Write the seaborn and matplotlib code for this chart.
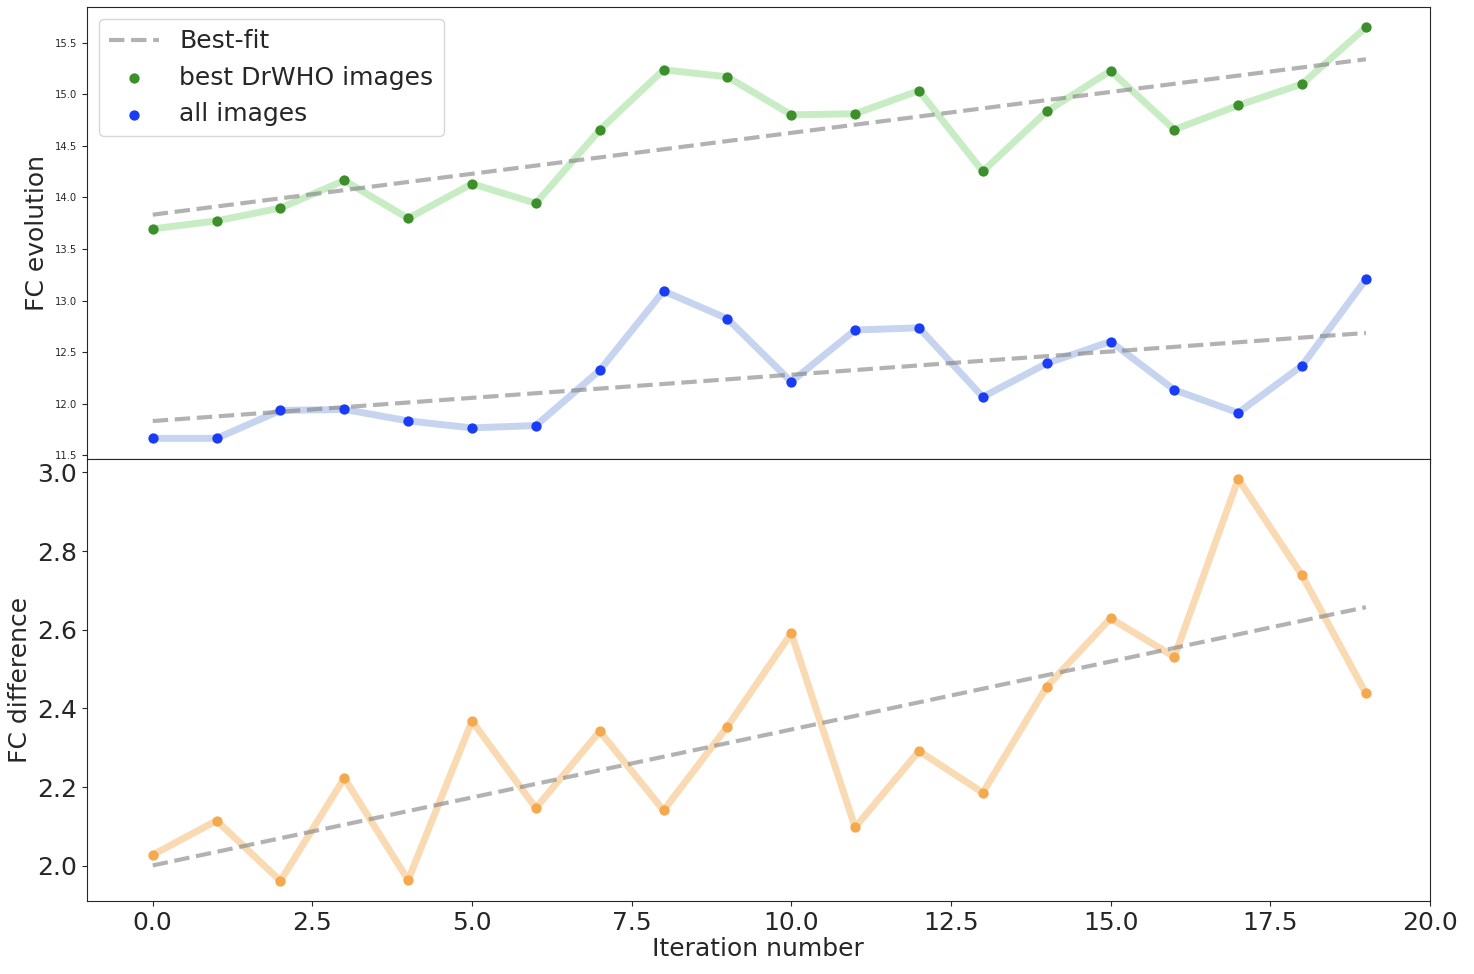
import numpy as np
import pandas as pd
import matplotlib
matplotlib.use('Agg')
import matplotlib.pyplot as plt
import seaborn as sns

# values
iterations = list(range(20))
best_drwho = [13.695, 13.773, 13.897, 14.164, 13.797, 14.132, 13.943, 14.653, 15.236, 15.168,
              14.800, 14.810, 15.034, 14.252, 14.833, 15.226, 14.657, 14.891, 15.099, 15.647]
all_images = [11.666, 11.666, 11.936, 11.946, 11.835, 11.767, 11.790, 12.324, 13.093, 12.825,
              12.214, 12.715, 12.737, 12.067, 12.392, 12.604, 12.135, 11.914, 12.370, 13.207]
fc_difference = [2.028, 2.115, 1.962, 2.223, 1.964, 2.368, 2.147, 2.342, 2.141, 2.354,
                 2.591, 2.098, 2.292, 2.186, 2.455, 2.629, 2.531, 2.983, 2.738, 2.438]

df = pd.DataFrame({'iteration': iterations, 'best': best_drwho,
                   'all': all_images, 'diff': fc_difference})

sns.set_style('ticks')
plt.rcParams['font.family'] = ['DejaVu Sans']

small = 7.2
big = 18
fit_kws = dict(ls='--', lw=3, alpha=0.6, zorder=2.5)

fig, (ax1, ax2) = plt.subplots(2, 1, sharex=True, figsize=(14.74, 9.74), dpi=100,
                               gridspec_kw={'height_ratios': [452, 442]})
fig.subplots_adjust(left=0.059, right=0.970, top=0.993, bottom=0.075, hspace=0)

# top panel: FC evolution
sns.lineplot(data=df, x='iteration', y='best', color='#c8ecc4', lw=5, ax=ax1)
sns.lineplot(data=df, x='iteration', y='all', color='#c6d4f0', lw=5, ax=ax1)
sns.regplot(data=df, x='iteration', y='best', scatter=False, ci=None, color='gray',
            line_kws=fit_kws, label='Best-fit', ax=ax1)
sns.regplot(data=df, x='iteration', y='all', scatter=False, ci=None, color='gray',
            line_kws=fit_kws, ax=ax1)
sns.scatterplot(data=df, x='iteration', y='best', color='#3d8f2c', s=55, linewidth=0,
                zorder=3, label='best DrWHO images', ax=ax1)
sns.scatterplot(data=df, x='iteration', y='all', color='#1a3cf5', s=55, linewidth=0,
                zorder=3, label='all images', ax=ax1)
ax1.set_ylabel('FC evolution', fontsize=big)
ax1.set_xlabel('')
ax1.tick_params(axis='y', labelsize=small)
ax1.legend(loc='upper left', fontsize=big)

# bottom panel: FC difference
sns.lineplot(data=df, x='iteration', y='diff', color='#fadab2', lw=5, ax=ax2)
sns.regplot(data=df, x='iteration', y='diff', scatter=False, ci=None, color='gray',
            line_kws=fit_kws, ax=ax2)
sns.scatterplot(data=df, x='iteration', y='diff', color='#f4a94f', s=55, linewidth=0,
                zorder=3, ax=ax2)
ax2.set_ylabel('FC difference', fontsize=big)
ax2.set_xlabel('Iteration number', fontsize=big, labelpad=2)
ax2.tick_params(axis='both', labelsize=big)

ax2.set_xlim(-1.03, 20.0)

plt.savefig('out.png', dpi=100)
